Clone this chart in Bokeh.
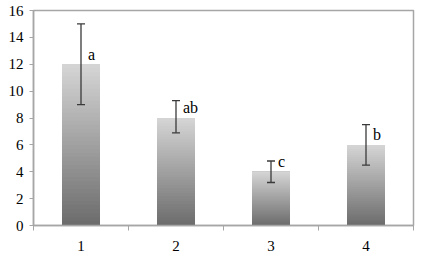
import numpy as np
from bokeh.plotting import figure
from bokeh.models import FixedTicker, Whisker, ColumnDataSource, Range1d
from bokeh.core.properties import value
from bokeh.embed import file_html
from bokeh.resources import INLINE

categories = ["1", "2", "3", "4"]
means = [12.0, 8.0, 4.0, 6.0]
lower = [9.0, 6.9, 3.2, 4.5]
upper = [15.0, 9.3, 4.8, 7.5]
letters = ["a", "ab", "c", "b"]
letter_y = [12.7, 8.8, 4.8, 6.8]
y_ticks = [0, 2, 4, 6, 8, 10, 12, 14, 16]

xs = np.arange(1, len(categories) + 1)
font = "Liberation Serif"

p = figure(width=421, height=257, output_backend="svg", toolbar_location=None,
           x_range=Range1d(0.5, 4.5), y_range=Range1d(0, 16),
           min_border_left=33, min_border_right=8, min_border_top=10, min_border_bottom=32)
p.grid.visible = False
p.background_fill_color = "white"
p.border_fill_color = "white"
p.outline_line_color = "#a6a6a6"
p.outline_line_width = 1.5

# gradient bars: overlapping slices from dark (bottom) to light (top)
N = 40
dark = np.array([0x6c, 0x6c, 0x6c])
light = np.array([0xd6, 0xd6, 0xd6])
bx, bb, bt, bc = [], [], [], []
for x, m in zip(xs, means):
    edges = np.linspace(0, m, N + 1)
    for i in range(N):
        t = (i + 0.5) / N
        c = (dark + (light - dark) * t).astype(int)
        bx.append(x)
        bb.append(edges[i])
        bt.append(m)
        bc.append("#%02x%02x%02x" % tuple(c))
p.vbar(x=bx, bottom=bb, top=bt, width=0.4, fill_color=bc, line_color=None)

src = ColumnDataSource(dict(x=xs, lower=lower, upper=upper))
w = Whisker(base="x", lower="lower", upper="upper", source=src,
            line_color="#3a3a3a", line_width=1.3, level="overlay")
for h in (w.upper_head, w.lower_head):
    h.size = 8
    h.line_color = "#3a3a3a"
    h.line_width = 1.3
p.add_layout(w)

p.text(x=xs, y=letter_y, text=letters, x_offset=7, text_align="left",
       text_baseline="middle", text_font=value(font),
       text_font_size="16px", text_color="black")

xax = p.xaxis[0]
yax = p.yaxis[0]

xax.ticker = FixedTicker(ticks=list(xs), minor_ticks=[x + 0.5 for x in range(0, len(categories) + 1)])
xax.major_label_overrides = {int(x): c for x, c in zip(xs, categories)}
xax.major_tick_line_color = None
xax.minor_tick_line_color = "#a6a6a6"
xax.minor_tick_in = 0
xax.minor_tick_out = 5
xax.major_label_standoff = 9
xax.axis_line_color = "#a6a6a6"
xax.axis_line_width = 1.5
xax.major_label_text_font = font
xax.major_label_text_font_size = "15px"
xax.major_label_text_color = "black"

yax.ticker = FixedTicker(ticks=y_ticks)
yax.major_tick_line_color = "#a6a6a6"
yax.major_tick_in = 0
yax.major_tick_out = 4
yax.minor_tick_line_color = None
yax.major_label_standoff = 6
yax.axis_line_color = "#a6a6a6"
yax.axis_line_width = 1.5
yax.major_label_text_font = font
yax.major_label_text_font_size = "15px"
yax.major_label_text_color = "black"

open("out.html", "w").write(file_html(p, INLINE))
